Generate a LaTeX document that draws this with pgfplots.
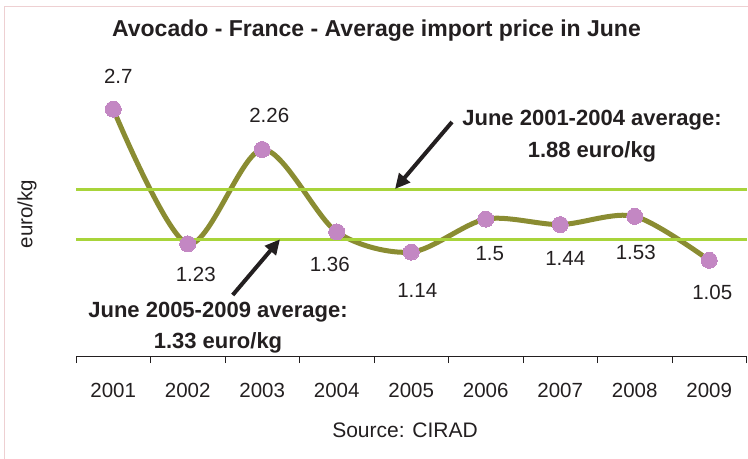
\documentclass[border=0pt]{standalone}
\usepackage{fontspec}
\setmainfont{Liberation Sans}
\usepackage{pgfplots}
\pgfplotsset{compat=1.18}
\usetikzlibrary{arrows.meta}
\definecolor{olivec}{RGB}{138,140,50}
\definecolor{mk}{RGB}{195,135,195}
\definecolor{avg}{RGB}{168,212,58}
\definecolor{txt}{RGB}{35,31,32}
\definecolor{framec}{RGB}{238,208,210}
\begin{document}
\begin{tikzpicture}
\useasboundingbox (0,0) rectangle (748bp,-459bp);
\draw[framec, line width=1.3bp] (4.5bp,-459bp) -- (4.5bp,-6.5bp) -- (748bp,-6.5bp);
\begin{axis}[
  at={(76bp,-356.5bp)}, anchor=south west, scale only axis,
  width=670.5bp, height=274.8bp,
  xmin=-0.5, xmax=8.5, ymin=0, ymax=3,
  axis x line=bottom, axis y line=none,
  x axis line style={-, line width=1.2bp, draw=txt},
  xtick={-0.5,0.5,1.5,2.5,3.5,4.5,5.5,6.5,7.5,8.5},
  xticklabels={2001,2002,2003,2004,2005,2006,2007,2008,2009},
  x tick label as interval,
  tick align=outside, major tick length=6.5bp,
  tick style={draw=txt, line width=1bp},
  xticklabel style={anchor=base, yshift=-34.5bp, text=txt, font=\fontsize{20.5bp}{24bp}\selectfont},
  ytick=\empty,
  clip=false,
]
\addplot[olivec, line width=5bp, smooth, tension=0.5] coordinates {(0,2.7)(1,1.23)(2,2.26)(3,1.36)(4,1.14)(5,1.5)(6,1.44)(7,1.53)(8,1.05)};
\addplot[mk, only marks, mark=*, mark size=8bp, mark options={fill=mk, draw=mk, line width=0pt}] coordinates {(0,2.7)(1,1.23)(2,2.26)(3,1.36)(4,1.14)(5,1.5)(6,1.44)(7,1.53)(8,1.05)};
\addplot[avg, line width=3.3bp] coordinates {(-0.5,1.82)(8.5,1.82)};
\addplot[avg, line width=3.3bp] coordinates {(-0.5,1.28)(8.5,1.28)};
\begin{scope}[every node/.style={text=txt, font=\fontsize{20.5bp}{24bp}\selectfont}]
\node[xshift=5bp, yshift=33bp] at (axis cs:0,2.7) {2.7};
\node[xshift=8bp, yshift=-31bp] at (axis cs:1,1.23) {1.23};
\node[xshift=7bp, yshift=34.5bp] at (axis cs:2,2.26) {2.26};
\node[xshift=-7bp, yshift=-32.5bp] at (axis cs:3,1.36) {1.36};
\node[xshift=6bp, yshift=-38bp] at (axis cs:4,1.14) {1.14};
\node[xshift=4bp, yshift=-34bp] at (axis cs:5,1.5) {1.5};
\node[xshift=5bp, yshift=-33.5bp] at (axis cs:6,1.44) {1.44};
\node[xshift=1bp, yshift=-36bp] at (axis cs:7,1.53) {1.53};
\node[xshift=3bp, yshift=-32bp] at (axis cs:8,1.05) {1.05};
\end{scope}
\end{axis}
\begin{scope}[every node/.style={text=txt}]
\node[font=\bfseries\fontsize{23bp}{27bp}\selectfont] at (376.5bp,-31bp) {Avocado - France - Average import price in June};
\node[font=\fontsize{21bp}{25bp}\selectfont] at (405bp,-430bp) {Source: CIRAD};
\node[rotate=90, font=\fontsize{20.5bp}{25bp}\selectfont] at (27bp,-214bp) {euro/kg};
\node[font=\bfseries\fontsize{22bp}{26bp}\selectfont] at (592bp,-120bp) {June 2001-2004 average:};
\node[font=\bfseries\fontsize{22bp}{26bp}\selectfont] at (592bp,-151.5bp) {1.88 euro/kg};
\node[font=\bfseries\fontsize{22bp}{26bp}\selectfont] at (218bp,-312.5bp) {June 2005-2009 average:};
\node[font=\bfseries\fontsize{22bp}{26bp}\selectfont] at (218bp,-342.5bp) {1.33 euro/kg};
\end{scope}
\draw[txt, line width=4bp, -{Triangle[length=15bp,width=14bp]}] (452bp,-122bp) -- (395bp,-189bp);
\draw[txt, line width=4bp, -{Triangle[length=15bp,width=14bp]}] (232.7bp,-295bp) -- (280bp,-239.3bp);
\end{tikzpicture}
\end{document}
